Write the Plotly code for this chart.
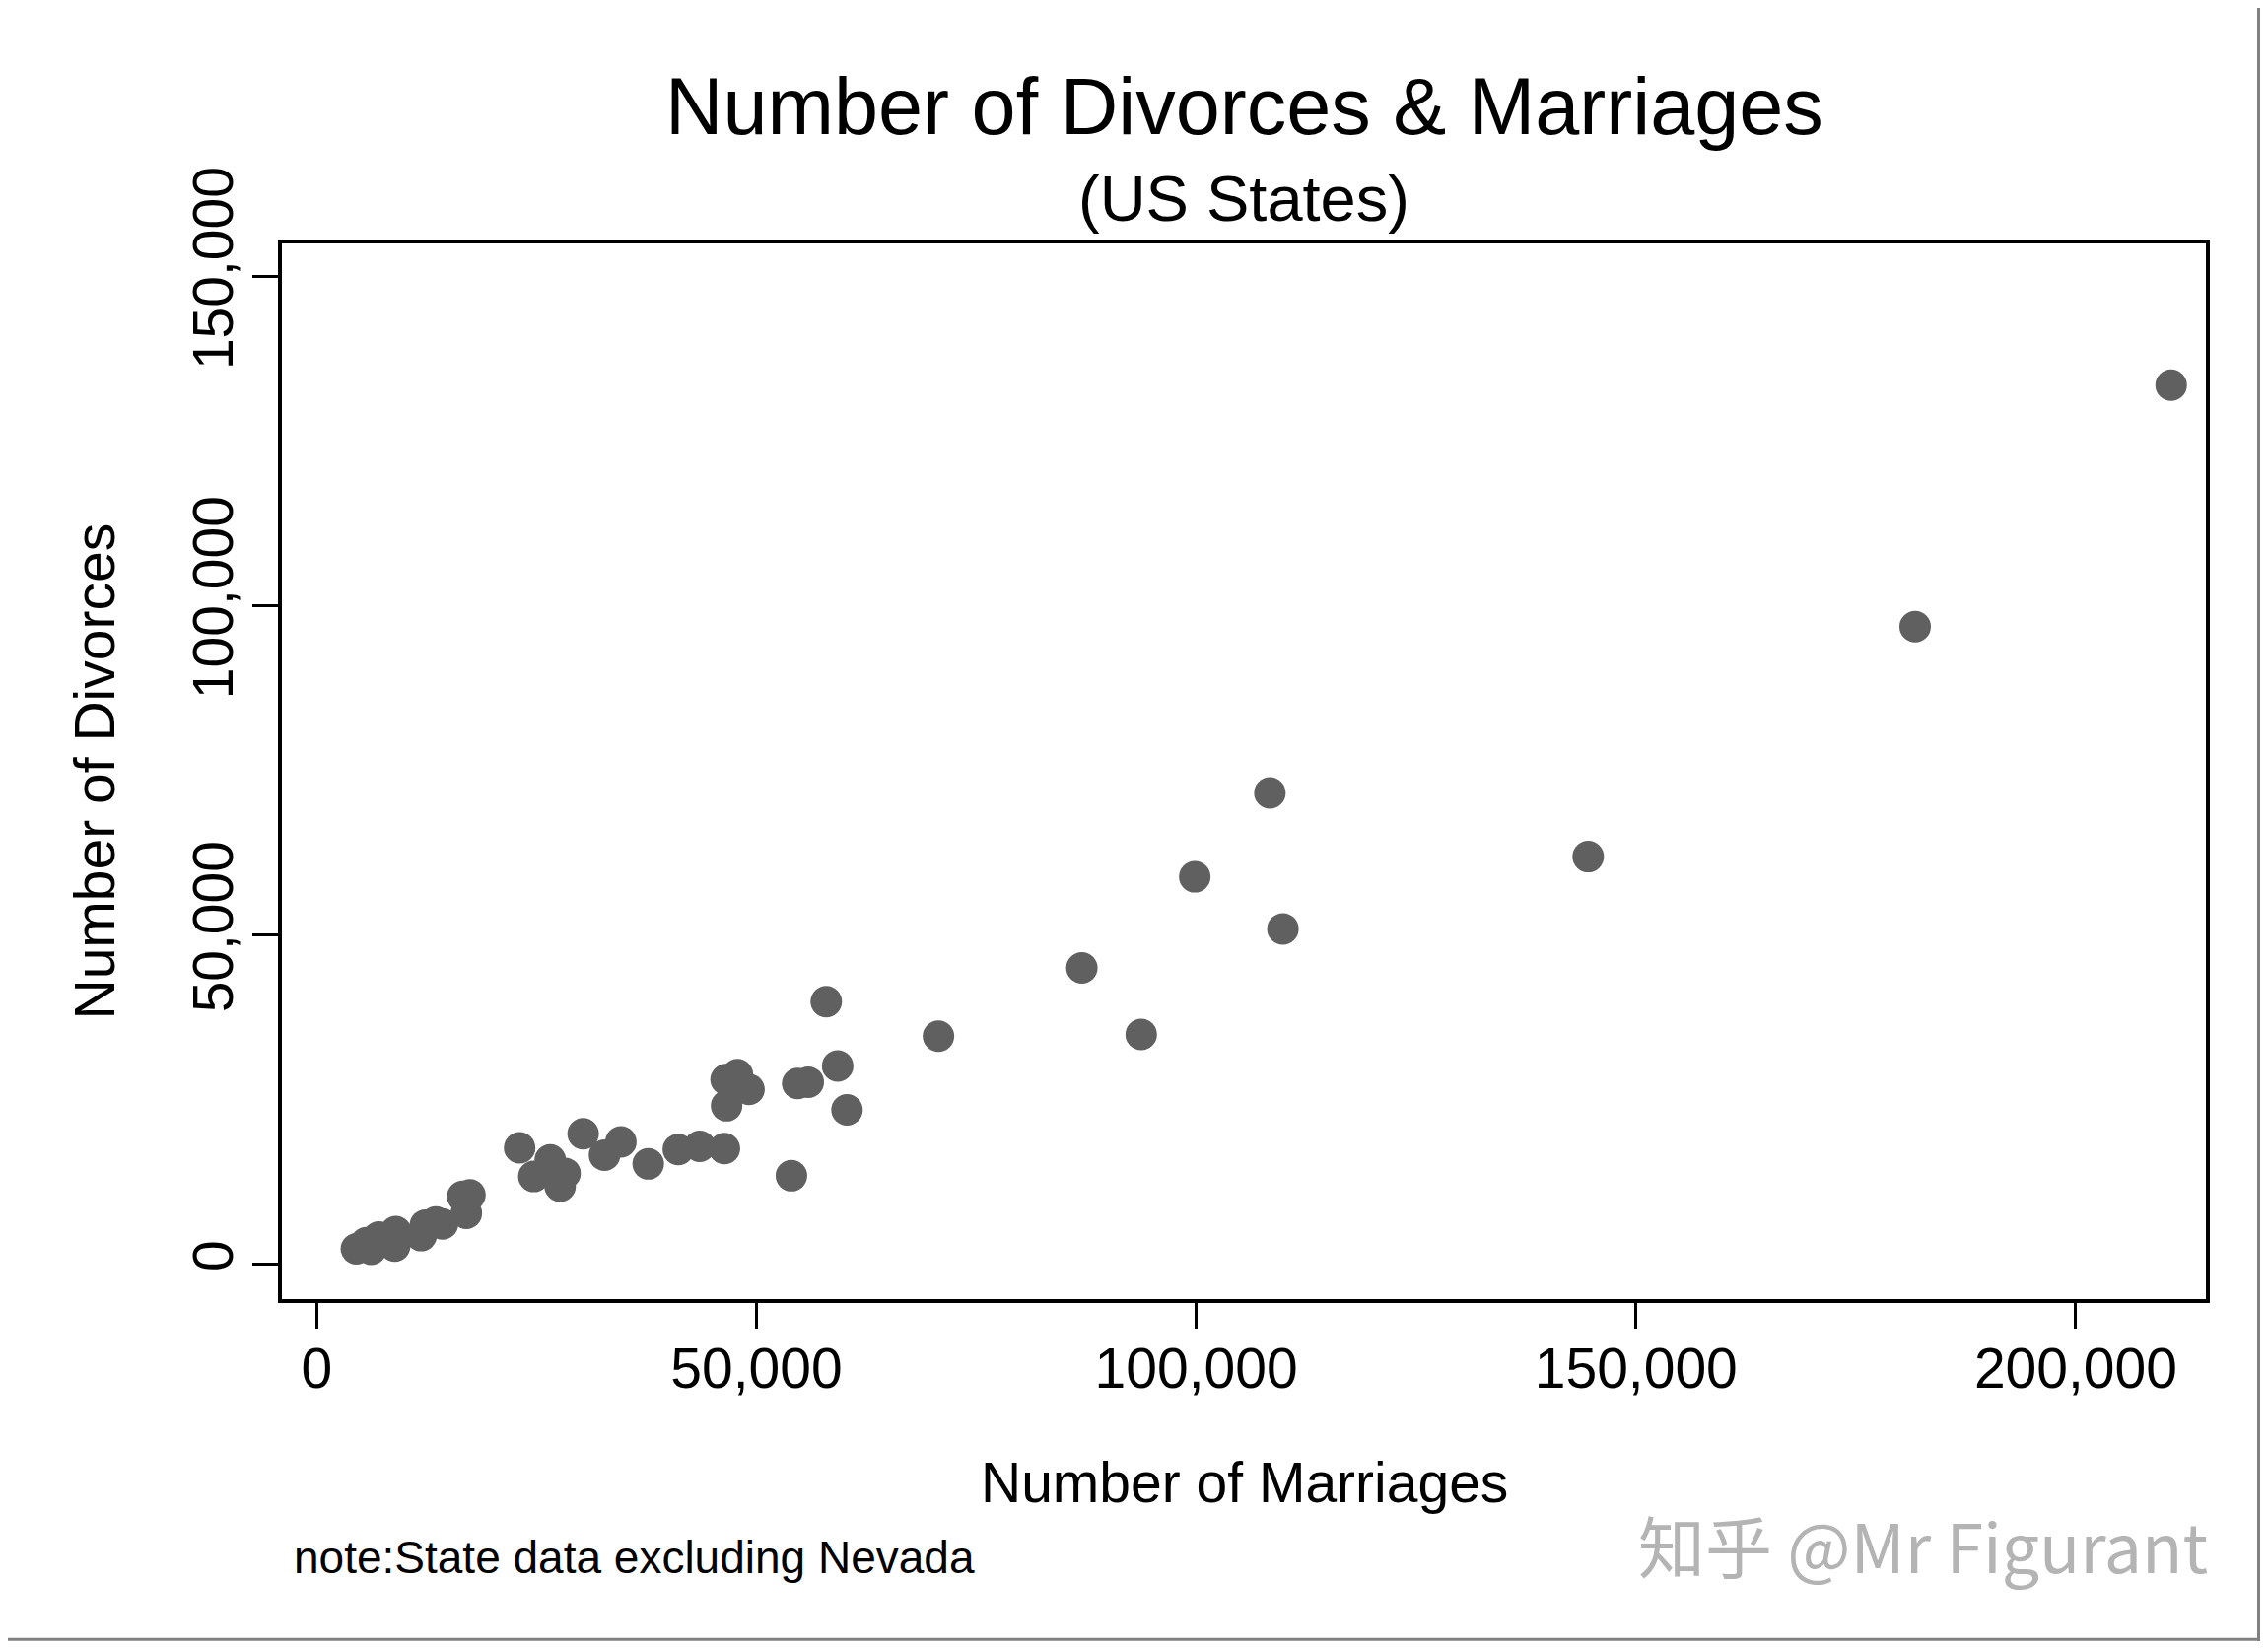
import plotly.graph_objects as go

# marriages / divorces per state
marriages = [4520, 6200, 5640, 8880, 9000, 7070, 11880, 12370, 13550, 14310,
             17020, 16610, 17430, 23080, 26560, 24690, 27680, 28240, 30300, 32730,
             34590, 37700, 41120, 43550, 46360, 46550, 47850, 49160, 46610, 53980,
             54690, 55890, 57940, 59240, 60300, 70700, 87000, 93750, 99840, 108380,
             109860, 144570, 181740, 210850]
divorces = [2370, 2280, 3290, 2790, 4990, 4170, 4370, 5970, 6460, 6150,
            7770, 10320, 10540, 17700, 15860, 13350, 11860, 13830, 19830, 16600,
            18600, 15260, 17460, 17940, 17590, 28060, 28810, 26570, 24090, 13460,
            27470, 27670, 39900, 30130, 23470, 34650, 45020, 34920, 58850, 71590,
            50950, 61920, 96840, 133510]

x_ticks = [0, 50000, 100000, 150000, 200000]
y_ticks = [0, 50000, 100000, 150000]

# page body has an 8px margin, so the figure is drawn 8px in from the corner
OFF = 8
W, H = 2301 - 2 * OFF, 1673 - 2 * OFF
L, R, T, B = 286 - OFF, 2238 - OFF, 246.5 - OFF, 1318 - OFF
font = "Liberation Sans, Arial, sans-serif"


def px(x):
    # page x -> paper coordinate
    return (x - OFF - L) / (R - L)


def py(y):
    return (B - (y - OFF)) / (B - T)


fig = go.Figure()
fig.add_trace(go.Scatter(x=marriages, y=divorces, mode='markers',
                         marker=dict(size=32, color='#606060', line=dict(width=0)),
                         showlegend=False, hoverinfo='x+y'))

axis_common = dict(showgrid=False, zeroline=False, showline=True, linecolor='black',
                   linewidth=4, mirror=True, ticks='outside', ticklen=26, tickwidth=2.5,
                   tickcolor='black', tickfont=dict(family=font, size=57, color='black'),
                   tickformat=',d')

fig.update_xaxes(range=[-3950, 214800], tickvals=x_ticks, ticklabelstandoff=-8, **axis_common)
fig.update_yaxes(range=[-5270, 155030], tickvals=y_ticks, tickangle=-90,
                 ticklabelstandoff=-3, **axis_common)

anns = [
    dict(text="Number of Divorces &amp; Marriages", x=0.5, y=py(107), size=81),
    dict(text="(US States)", x=0.5, y=py(201), size=65),
    dict(text="Number of Marriages", x=0.5, y=py(1504), size=57),
]
for a in anns:
    fig.add_annotation(text=a['text'], x=a['x'], y=a['y'], xref='paper', yref='paper',
                       xanchor='center', yanchor='middle', showarrow=False,
                       font=dict(family=font, size=a['size'], color='black'))

fig.add_annotation(text="Number of Divorces", x=px(95), y=0.5, xref='paper', yref='paper',
                   xanchor='center', yanchor='middle', textangle=-90, showarrow=False,
                   font=dict(family=font, size=57, color='black'))
fig.add_annotation(text="note:State data excluding Nevada", x=px(296), y=py(1580),
                   xref='paper', yref='paper', xanchor='left', yanchor='middle',
                   showarrow=False, font=dict(family=font, size=46, color='black'))
fig.add_annotation(text="知乎 @Mr Figurant", x=px(2242), y=py(1567),
                   xref='paper', yref='paper', xanchor='right', yanchor='middle',
                   showarrow=False, font=dict(family="Noto Sans CJK SC, Noto Sans", size=68,
                                              color='#b4b4b4'))

# thin grey border at right and bottom edge of the image
fig.add_shape(type='line', xref='paper', yref='paper', x0=px(0), x1=px(2301), y0=py(1663.5),
              y1=py(1663.5), line=dict(color='#808080', width=3))
fig.add_shape(type='line', xref='paper', yref='paper', x0=px(2291.5), x1=px(2291.5), y0=py(0),
              y1=py(1673), line=dict(color='#808080', width=3))

fig.update_layout(width=W, height=H, autosize=False,
                  margin=dict(l=L, r=W - R, t=T, b=H - B, pad=0),
                  plot_bgcolor='white', paper_bgcolor='white')

fig.write_html("out.html")
